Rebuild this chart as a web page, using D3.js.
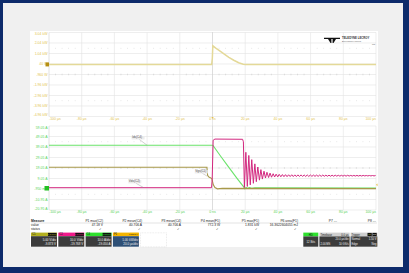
<!DOCTYPE html>
<html>
<head>
<meta charset="utf-8">
<script src="https://cdn.jsdelivr.net/npm/d3@7"></script>
<style>
  body { margin: 0; background: #0d2b6b; }
  svg text { font-family: "Liberation Sans", Arial, sans-serif; }
</style>
</head>
<body>
<div id="scope"></div>
<script>
// time axis (µs) shared by both grids
const timeTicks = [-100, -80, -60, -40, -20, 0, 20, 40, 60, 80, 100];
const timeLabels = ["-100 µs", "-80 µs", "-60 µs", "-40 µs", "-20 µs", "0 ns", "20 µs", "40 µs", "60 µs", "80 µs", "100 µs"];

// vertical tick labels, one per grid line, top to bottom
const powerLabels = ["3.04 kW", "2.04 kW", "1.04 kW", "40 W", "-960 W", "-1.96 kW", "-2.96 kW", "-3.96 kW", "-4.96 kW"];
const currentLabels = ["59.05 A", "49.05 A", "39.05 A", "29.05 A", "19.05 A", "9.05 A", "-950 mA", "-10.95 A", "-20.95 A"];

// F1 = C2*C4, kW
const powerTrace = [[-100, 0], [-0.5, 0], [-0.1, 0.6], [0.2, 1.77], [2, 1.55], [4, 1.34], [7, 1.0],
  [10, 0.68], [13, 0.40], [16, 0.16], [18.8, 0.02], [20, 0], [100, 0]];

// C4 drain current, A
const currentTrace = [[-100, 40.7], [-0.3, 40.7], [0.3, 40.5], [5, 30.2], [10, 19.6], [15, 9.2], [19.3, 0.6],
  [19.8, -0.8], [20.5, 0.6], [21.5, -0.4], [22.5, 0.3], [24, -0.2], [26, 0.1], [100, 0]];

// C1 gate voltage, V
const gateTrace = [[-100, 9.9], [-3.4, 9.9], [-3.0, 6], [-2.2, 5.2], [-1.0, 4.8], [-0.3, 4.2], [0.5, 1.5],
  [1.5, 0.2], [3, -0.4], [6, -0.2], [100, -0.3]];

// C2 drain voltage, V (turn-off edge and ringing)
const vdsTrace = [[-100, 0.3], [-0.6, 0.3], [-0.2, 8], [0.4, 45.5], [1.5, 46.6], [18.4, 46.4], [18.9, 44],
  [19.5, 0.5], [20.4, 34], [21.3, 1.5], [22.2, 31], [23.1, 3], [24.0, 27], [25.0, 4.5], [25.9, 23],
  [26.8, 6], [27.7, 20], [28.7, 7.5], [29.6, 17.5], [30.5, 8.5], [31.5, 16], [32.4, 9.5], [33.3, 15],
  [34.3, 10], [35.2, 14.2], [36.1, 10.3], [37.1, 13.6], [38.0, 10.5], [38.9, 13.2], [39.9, 10.6], [40.8, 13.0]];
// C2 residual ripple, sampled every 0.95 µs from 41.8 µs
const vdsRippleStart = 41.8;
const vdsRippleStep = 0.95;
const vdsRipple = [10.7, 12.8, 10.8, 12.7, 10.8, 12.6, 10.9, 12.6, 10.9, 12.5,
  10.9, 12.5, 11.0, 12.5, 11.0, 12.4, 11.0, 12.4, 11.0, 12.4,
  11.1, 12.3, 11.1, 12.3, 11.1, 12.3, 11.1, 12.3, 11.2, 12.2,
  11.2, 12.2, 11.2, 12.2, 11.2, 12.2, 11.3, 12.1, 11.3, 12.1,
  11.3, 12.1, 11.3, 12.1, 11.4, 12.0, 11.4, 12.0, 11.4, 12.0,
  11.4, 12.0, 11.4, 12.0, 11.5, 11.9, 11.5, 11.9, 11.5, 11.9,
  11.5, 11.9];

// measurement table
const measureNames = ["P1 max(C2)", "P2 mean(C4)", "P3 mean(C4)", "P4 mean(F1)", "P5 max(F1)", "P6 area(F1)", "P7 ---", "P8 ---"];
const measureValues = ["47.18 V", "40.706 A", "40.706 A", "772.3 W", "1.831 kW", "16.3622604055 mJ", "", ""];
const measureOk = [true, true, true, true, true, true, false, false];

// channel descriptors
const channelNames = ["C1", "C2", "C4", "F1"];
const channelTags = ["BWL DC1M", "BWL DC1M", "BWL DC1M", "z(C2*C4)"];
const channelScale = ["5.00 V/div", "10.0 V/div", "10.0 A/div", "1.00 kW/div"];
const channelOffset = ["-9.873 V", "-19.768 V", "-19.050 A", "20.0 µs/div"];

const W = 409, H = 273;
const svg = d3.select("#scope").append("svg").attr("width", W).attr("height", H);

svg.append("rect").attr("width", W).attr("height", H).attr("fill", "#0d2b6b");
svg.append("rect").attr("x", 3).attr("y", 3).attr("width", 400).attr("height", 264).attr("fill", "#f0f0f0");
svg.append("rect").attr("x", 30).attr("y", 31).attr("width", 348).attr("height", 216).attr("fill", "#ffffff");

const plotLeft = 49, plotRight = 376;
const x = d3.scaleLinear().domain([-100, 100]).range([plotLeft, plotRight]);
const divX = d3.scaleLinear().domain([0, 10]).range([plotLeft, plotRight]);

const topGrid = {top: 32.5, bottom: 116.5};
const botGrid = {top: 126, bottom: 210};

const yPow = d3.scaleLinear().domain([-4.96, 3.04]).range([topGrid.bottom, topGrid.top]);
const yAmp = d3.scaleLinear().domain([-20.95, 59.05]).range([botGrid.bottom, botGrid.top]);
const yVds = d3.scaleLinear().domain([-20.95, 59.05]).range([botGrid.bottom, botGrid.top]);
const yVgs = d3.scaleLinear().domain([-10.475, 29.525]).range([botGrid.bottom, botGrid.top]);

function drawGrid(g, labels, labelColor, tickColor) {
  const divY = d3.scaleLinear().domain([0, 8]).range([g.top, g.bottom]);
  const grid = svg.append("g");
  grid.selectAll(".h").data(d3.range(9)).join("line")
    .attr("x1", plotLeft).attr("x2", plotRight)
    .attr("y1", d => divY(d)).attr("y2", d => divY(d))
    .attr("stroke", "#e3e3e3").attr("stroke-width", 0.6);
  grid.selectAll(".v").data(d3.range(11)).join("line")
    .attr("x1", d => divX(d)).attr("x2", d => divX(d))
    .attr("y1", g.top).attr("y2", g.bottom)
    .attr("stroke", d => d === 0 ? "#cfcfcf" : "#e3e3e3").attr("stroke-width", 0.6);

  // minor ticks on the centre line and dotted rows
  const minor = d3.range(0, 10.01, 0.2).filter(d => Math.abs(d - Math.round(d)) > 0.01);
  grid.selectAll(".mt").data(minor).join("line")
    .attr("x1", d => divX(d)).attr("x2", d => divX(d))
    .attr("y1", divY(4) - 0.8).attr("y2", divY(4) + 0.8)
    .attr("stroke", "#c4c4c4").attr("stroke-width", 0.5);
  [1.5, 6.5].forEach(r => {
    grid.selectAll(".md" + r * 10).data(minor).join("rect")
      .attr("x", d => divX(d) - 0.4).attr("y", divY(r) - 0.4)
      .attr("width", 0.8).attr("height", 0.8).attr("fill", "#dadada");
  });

  grid.selectAll(".yl").data(labels).join("text")
    .attr("x", 47.5)
    .attr("y", (d, i) => Math.min(Math.max(divY(i), g.top + 1.6), g.bottom - 1.6))
    .attr("dy", "0.35em")
    .attr("text-anchor", "end")
    .attr("font-size", 3.5)
    .attr("fill", labelColor)
    .text(d => d);

  grid.selectAll(".xl").data(timeTicks).join("text")
    .attr("x", d => x(d))
    .attr("y", g.bottom + 3.3)
    .attr("text-anchor", (d, i) => i === 0 ? "start" : (i === timeTicks.length - 1 ? "end" : "middle"))
    .attr("font-size", 3.5)
    .attr("fill", tickColor)
    .text((d, i) => timeLabels[i]);
}

drawGrid(topGrid, powerLabels, "#e3c553", "#e3c553");
drawGrid(botGrid, currentLabels, "#5ad35a", "#5ad35a");

// trigger position line
svg.append("line")
  .attr("x1", x(0)).attr("x2", x(0)).attr("y1", topGrid.top).attr("y2", botGrid.bottom)
  .attr("stroke", "#b5b5b5").attr("stroke-width", 0.6).attr("stroke-dasharray", "1,1");

const line = yScale => d3.line().x(d => x(d[0])).y(d => yScale(d[1]));

const vdsFull = vdsTrace.concat(vdsRipple.map((v, i) => [vdsRippleStart + i * vdsRippleStep, v]));

svg.append("path").datum(powerTrace).attr("d", line(yPow))
  .attr("fill", "none").attr("stroke", "#e4d998").attr("stroke-width", 1.5);

svg.append("path").datum(currentTrace).attr("d", line(yAmp))
  .attr("fill", "none").attr("stroke", "#6be36b").attr("stroke-width", 1.1);
svg.append("path").datum(gateTrace).attr("d", line(yVgs))
  .attr("fill", "none").attr("stroke", "#a8994a").attr("stroke-width", 1.1);
svg.append("path").datum(vdsFull).attr("d", line(yVds))
  .attr("fill", "none").attr("stroke", "#d3287f").attr("stroke-width", 1.0);

// ground markers and trigger markers
svg.append("rect").attr("x", 45.5).attr("y", yPow(0) - 2).attr("width", 3.5).attr("height", 4).attr("fill", "#b58e12");
svg.append("rect").attr("x", 44.5).attr("y", yAmp(0) - 2).attr("width", 4.5).attr("height", 4.5).attr("fill", "#22c022");
svg.append("path").attr("d", `M${x(0) - 1.3},${topGrid.bottom + 0.5}L${x(0) + 1.3},${topGrid.bottom + 0.5}L${x(0)},${topGrid.bottom + 2}Z`)
  .attr("fill", "#e6c24a");
svg.append("path").attr("d", `M${plotRight + 1.5},${yVgs(1.5) - 1.3}L${plotRight + 1.5},${yVgs(1.5) + 1.3}L${plotRight},${yVgs(1.5)}Z`)
  .attr("fill", "#e6c24a");

// trace labels with leaders
const traceNotes = [
  {text: "Ids(C4)", t: -40, scale: yAmp, v: 40.7, dx: -15, dy: -7},
  {text: "Vds(C2)", t: -42, scale: yVds, v: 0.3, dx: -15, dy: -5.5},
  {text: "Vgs(C1)", t: -3.2, scale: yVgs, v: 5.6, dx: -12, dy: -4}
];
traceNotes.forEach(n => {
  const px = x(n.t), py = n.scale(n.v);
  svg.append("line").attr("x1", px + n.dx + 7).attr("y1", py + n.dy + 1).attr("x2", px).attr("y2", py)
    .attr("stroke", "#8a8a8a").attr("stroke-width", 0.4);
  svg.append("rect").attr("x", px + n.dx - 0.5).attr("y", py + n.dy - 2.2).attr("width", 13).attr("height", 3.4)
    .attr("fill", "#ececec");
  svg.append("text").attr("x", px + n.dx).attr("y", py + n.dy).attr("font-size", 3).attr("fill", "#555").text(n.text);
});

// logo
const logo = svg.append("g").attr("transform", "translate(324,36.5)");
logo.append("path").attr("d", "M0,1.2 L16,1.2 L16,2.6 L12,2.6 L9.5,6.5 L8.6,6.5 L8.6,2.6 L7.4,2.6 L7.4,6.5 L6.5,6.5 L4,2.6 L0,2.6 Z")
  .attr("fill", "#111");
logo.append("text").attr("x", 18).attr("y", 2.3).attr("font-size", 2.8).attr("font-weight", "bold").attr("fill", "#333").text("TELEDYNE LECROY");
logo.append("text").attr("x", 18).attr("y", 5).attr("font-size", 2.2).attr("fill", "#555").text("Everywhereyoulook");
logo.append("text").attr("x", 48).attr("y", 8.3).attr("font-size", 2).attr("fill", "#555").text("MS");

// measurement table
const colEnd = d3.scaleLinear().domain([0, 7]).range([103, 376]);
const table = svg.append("g");
table.append("text").attr("x", 31).attr("y", 222).attr("font-size", 3.3).attr("font-weight", "bold").attr("fill", "#222").text("Measure");
table.append("text").attr("x", 31).attr("y", 226.3).attr("font-size", 3.3).attr("fill", "#222").text("value");
table.append("text").attr("x", 31).attr("y", 230.2).attr("font-size", 3.3).attr("fill", "#222").text("status");
table.append("line").attr("x1", 31).attr("x2", 377).attr("y1", 223).attr("y2", 223).attr("stroke", "#b8b8b8").attr("stroke-width", 0.4);
table.selectAll(".mn").data(measureNames).join("text")
  .attr("x", (d, i) => colEnd(i)).attr("y", 222).attr("text-anchor", "end")
  .attr("font-size", 3.3).attr("fill", "#222").text(d => d);
table.selectAll(".mv").data(measureValues).join("text")
  .attr("x", (d, i) => colEnd(i)).attr("y", 226.3).attr("text-anchor", "end")
  .attr("font-size", 3.3).attr("fill", "#222").text(d => d);
table.selectAll(".ms").data(measureOk).join("text")
  .attr("x", (d, i) => colEnd(i) - 1).attr("y", 230.2).attr("text-anchor", "end")
  .attr("font-size", 3.3).attr("fill", "#222").text(d => d ? "✓" : "");

// channel descriptor boxes
const chHead = ["#b3b020", "#f0198a", "#2ee02e", "#f3b400"];
const chBody = ["#3c3c3c", "#3c3c3c", "#3c3c3c", "#2f5076"];
const chX = d3.scaleLinear().domain([0, 1]).range([31, 58.3]);
channelNames.forEach((c, i) => {
  const bx = chX(i), bw = 26;
  svg.append("rect").attr("x", bx).attr("y", 232.6).attr("width", bw).attr("height", 3.6).attr("fill", chHead[i]);
  svg.append("rect").attr("x", bx + bw - 9).attr("y", 232.9).attr("width", 8.6).attr("height", 3).attr("fill", i === 3 ? chHead[i] : "#111");
  svg.append("rect").attr("x", bx).attr("y", 236.2).attr("width", bw).attr("height", 10.5).attr("fill", chBody[i]);
  svg.append("text").attr("x", bx + 1).attr("y", 235.4).attr("font-size", 2.8).attr("fill", "#1a1a1a").text(c);
  svg.append("text").attr("x", bx + bw - 1).attr("y", 235.3).attr("text-anchor", "end").attr("font-size", 2.2)
    .attr("fill", i === 3 ? "#222" : chHead[i]).text(channelTags[i]);
  svg.append("text").attr("x", bx + bw - 1).attr("y", 240.5).attr("text-anchor", "end").attr("font-size", 3).attr("fill", "#f2f2f2").text(channelScale[i]);
  svg.append("text").attr("x", bx + bw - 1).attr("y", 244.6).attr("text-anchor", "end").attr("font-size", 3).attr("fill", "#f2f2f2").text(channelOffset[i]);
});
svg.append("rect").attr("x", 140.5).attr("y", 232.8).attr("width", 26).attr("height", 14)
  .attr("fill", "none").attr("stroke", "#c8c8c8").attr("stroke-width", 0.4).attr("stroke-dasharray", "0.8,0.8");

// acquisition status boxes
svg.append("rect").attr("x", 303.3).attr("y", 232.6).attr("width", 15).attr("height", 3.8).attr("fill", "#2ee02e");
svg.append("text").attr("x", 310.8).attr("y", 235.6).attr("text-anchor", "middle").attr("font-size", 2.8).attr("fill", "#111").text("HD");
svg.append("rect").attr("x", 303.3).attr("y", 236.4).attr("width", 15).attr("height", 10.3).attr("fill", "#3c3c3c");
svg.append("text").attr("x", 310.8).attr("y", 242.7).attr("text-anchor", "middle").attr("font-size", 2.8).attr("fill", "#eee").text("12 Bits");

svg.append("rect").attr("x", 319.4).attr("y", 232.6).attr("width", 30.2).attr("height", 3.8).attr("fill", "#cfcfcf");
svg.append("text").attr("x", 320.4).attr("y", 235.5).attr("font-size", 2.7).attr("fill", "#222").text("Timebase");
svg.append("text").attr("x", 348.6).attr("y", 235.5).attr("text-anchor", "end").attr("font-size", 2.7).attr("fill", "#222").text("0.0 µs");
svg.append("rect").attr("x", 319.4).attr("y", 236.4).attr("width", 30.2).attr("height", 10.3).attr("fill", "#3c3c3c");
svg.append("text").attr("x", 348.6).attr("y", 240.4).attr("text-anchor", "end").attr("font-size", 2.7).attr("fill", "#eee").text("20.0 µs/div");
svg.append("text").attr("x", 320.4).attr("y", 244.6).attr("font-size", 2.7).attr("fill", "#eee").text("2.00 MS");
svg.append("text").attr("x", 348.6).attr("y", 244.6).attr("text-anchor", "end").attr("font-size", 2.7).attr("fill", "#eee").text("10 GS/s");

svg.append("rect").attr("x", 350.6).attr("y", 232.6).attr("width", 26.8).attr("height", 3.8).attr("fill", "#cfcfcf");
svg.append("text").attr("x", 351.5).attr("y", 235.5).attr("font-size", 2.7).attr("fill", "#222").text("Trigger");
svg.append("rect").attr("x", 367.5).attr("y", 232.9).attr("width", 4.3).attr("height", 3.2).attr("fill", "#111");
svg.append("rect").attr("x", 372.4).attr("y", 232.9).attr("width", 4.3).attr("height", 3.2).attr("fill", "#111");
svg.append("text").attr("x", 369.6).attr("y", 235.3).attr("text-anchor", "middle").attr("font-size", 2).attr("fill", "#c8c020").text("C1");
svg.append("text").attr("x", 374.5).attr("y", 235.3).attr("text-anchor", "middle").attr("font-size", 2).attr("fill", "#eee").text("DC");
svg.append("rect").attr("x", 350.6).attr("y", 236.4).attr("width", 26.8).attr("height", 10.3).attr("fill", "#3c3c3c");
svg.append("text").attr("x", 351.5).attr("y", 240.4).attr("font-size", 2.7).attr("fill", "#eee").text("Normal");
svg.append("text").attr("x", 376.5).attr("y", 240.4).attr("text-anchor", "end").attr("font-size", 2.7).attr("fill", "#eee").text("1.50 V");
svg.append("text").attr("x", 351.5).attr("y", 244.6).attr("font-size", 2.7).attr("fill", "#eee").text("Edge");
svg.append("text").attr("x", 376.5).attr("y", 244.6).attr("text-anchor", "end").attr("font-size", 2.7).attr("fill", "#eee").text("Neg");
</script>
</body>
</html>
